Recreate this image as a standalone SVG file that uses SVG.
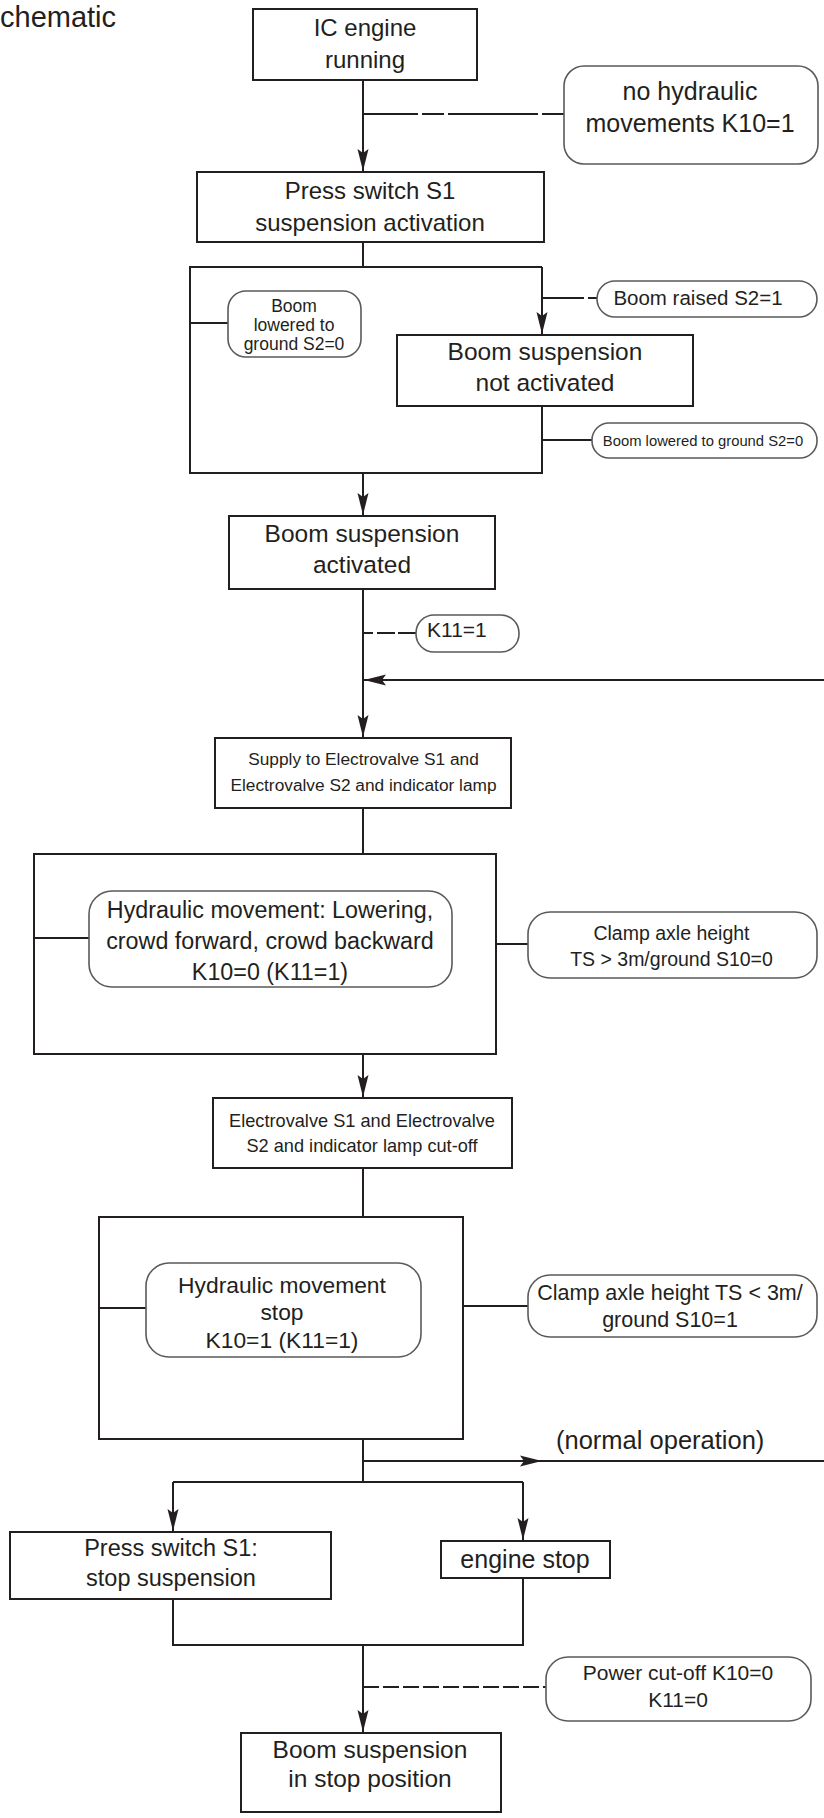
<svg xmlns="http://www.w3.org/2000/svg" width="824" height="1818" viewBox="0 0 824 1818">
<style>
.bg{fill:#ffffff}
.box{fill:#ffffff;stroke:#231f20;stroke-width:2}
.frame{fill:none;stroke:#231f20;stroke-width:2}
.pill{fill:#ffffff;stroke:#5a5a5a;stroke-width:1.6}
.ln{fill:none;stroke:#231f20;stroke-width:2}
.dash{fill:none;stroke:#231f20;stroke-width:2}
text{font-family:"Liberation Sans",Arial,sans-serif;fill:#231f20;text-anchor:middle}
.s{text-anchor:start}
</style>
<defs>
<marker id="arr" markerUnits="userSpaceOnUse" markerWidth="24" markerHeight="14" refX="22" refY="6" orient="auto">
<path d="M0,0.5 L22,6 L0,11.5 L4,6 z" fill="#231f20"/>
</marker>
</defs>
<rect class="bg" x="0" y="0" width="824" height="1818"/>

<g id="title"><text class="s" x="0" y="27" font-size="29">chematic</text></g>

<g id="connectors">
<path class="ln" d="M363,80 V171" marker-end="url(#arr)"/>
<path class="dash" d="M363,114 H418 M422,114 H444 M448,114 H538 M542,114 H564"/>
<path class="ln" d="M363,242 V267"/>
<path class="ln" d="M542,267 V334" marker-end="url(#arr)"/>
<path class="ln" d="M190,323 H228"/>
<path class="dash" d="M542,298 H584 M588,298 H597"/>
<path class="ln" d="M542,440 H592"/>
<path class="ln" d="M363,473 V515" marker-end="url(#arr)"/>
<path class="ln" d="M363,589 V737" marker-end="url(#arr)"/>
<path class="dash" d="M363,633 H373 M377,633 H395 M398,633 H416"/>
<path class="ln" d="M824,680 H364" marker-end="url(#arr)"/>
<path class="ln" d="M363,808 V854"/>
<path class="ln" d="M34,938 H89"/>
<path class="ln" d="M496,944 H528"/>
<path class="ln" d="M363,1054 V1097" marker-end="url(#arr)"/>
<path class="ln" d="M363,1168 V1217"/>
<path class="ln" d="M99,1308 H146"/>
<path class="ln" d="M463,1306 H528"/>
<path class="ln" d="M363,1439 V1482"/>
<path class="ln" d="M363,1461 L542,1461 L824,1461" marker-mid="url(#arr)"/>
<path class="ln" d="M173,1482 H523"/>
<path class="ln" d="M173,1482 V1531" marker-end="url(#arr)"/>
<path class="ln" d="M523,1482 V1540" marker-end="url(#arr)"/>
<path class="ln" d="M173,1599 V1645 H523 V1578"/>
<path class="ln" d="M363,1645 V1732" marker-end="url(#arr)"/>
<path class="dash" d="M363,1687 H546" stroke-dasharray="16,4"/>
<text class="s" x="556" y="1449" font-size="25.5">(normal operation)</text>
</g>

<g id="n_ic_engine">
<rect class="box" x="253" y="9" width="224" height="71"/>
<text x="365" y="36" font-size="24">IC engine</text>
<text x="365" y="68" font-size="24">running</text>
</g>

<g id="n_no_hydraulic">
<rect class="pill" x="564" y="66" width="254" height="98" rx="20"/>
<text x="690" y="100" font-size="25">no hydraulic</text>
<text x="690" y="132" font-size="25">movements K10=1</text>
</g>

<g id="n_press_s1">
<rect class="box" x="197" y="172" width="347" height="70"/>
<text x="370" y="199" font-size="24">Press switch S1</text>
<text x="370" y="231" font-size="24">suspension activation</text>
</g>

<g id="n_frame1">
<path class="frame" d="M542,267 H190 V473 H542 V406"/>
</g>

<g id="n_boom_lowered_left">
<rect class="pill" x="228" y="291" width="133" height="66" rx="18"/>
<text x="294" y="312" font-size="17.5">Boom</text>
<text x="294" y="331" font-size="17.5">lowered to</text>
<text x="294" y="349.5" font-size="17.5">ground S2=0</text>
</g>

<g id="n_boom_raised">
<rect class="pill" x="597" y="281" width="220" height="36" rx="18"/>
<text x="698" y="305" font-size="20.5">Boom raised S2=1</text>
</g>

<g id="n_not_activated">
<rect class="box" x="397" y="335" width="296" height="71"/>
<text x="545" y="360" font-size="24.5">Boom suspension</text>
<text x="545" y="391" font-size="24.5">not activated</text>
</g>

<g id="n_boom_lowered_right">
<rect class="pill" x="592" y="423" width="225" height="35" rx="17"/>
<text x="703" y="446" font-size="14.8">Boom lowered to ground S2=0</text>
</g>

<g id="n_activated">
<rect class="box" x="229" y="516" width="266" height="73"/>
<text x="362" y="542" font-size="24.5">Boom suspension</text>
<text x="362" y="573" font-size="24.5">activated</text>
</g>

<g id="n_k11">
<rect class="pill" x="416" y="615" width="103" height="37" rx="18"/>
<text class="s" x="427" y="637" font-size="21">K11=1</text>
</g>

<g id="n_supply">
<rect class="box" x="215" y="738" width="296" height="70"/>
<text x="363.5" y="765" font-size="17.3">Supply to Electrovalve S1 and</text>
<text x="363.5" y="791" font-size="17.3">Electrovalve S2 and indicator lamp</text>
</g>

<g id="n_frame2">
<rect class="frame" x="34" y="854" width="462" height="200"/>
</g>

<g id="n_hyd_move">
<rect class="pill" x="89" y="891" width="363" height="96" rx="23"/>
<text x="270" y="918" font-size="23.3">Hydraulic movement: Lowering,</text>
<text x="270" y="949" font-size="23.3">crowd forward, crowd backward</text>
<text x="270" y="980" font-size="23.3">K10=0 (K11=1)</text>
</g>

<g id="n_clamp1">
<rect class="pill" x="528" y="912" width="289" height="66" rx="22"/>
<text x="671.5" y="940" font-size="19.5">Clamp axle height</text>
<text x="671.5" y="966" font-size="19.5">TS &gt; 3m/ground S10=0</text>
</g>

<g id="n_cutoff">
<rect class="box" x="213" y="1098" width="299" height="70"/>
<text x="362" y="1127" font-size="18.2">Electrovalve S1 and Electrovalve</text>
<text x="362" y="1152" font-size="18.2">S2 and indicator lamp cut-off</text>
</g>

<g id="n_frame3">
<rect class="frame" x="99" y="1217" width="364" height="222"/>
</g>

<g id="n_hyd_stop">
<rect class="pill" x="146" y="1263" width="275" height="94" rx="23"/>
<text x="282" y="1293" font-size="22.8">Hydraulic movement</text>
<text x="282" y="1320" font-size="22.8">stop</text>
<text x="282" y="1348" font-size="22.8">K10=1 (K11=1)</text>
</g>

<g id="n_clamp2">
<rect class="pill" x="528" y="1275" width="289" height="62" rx="22"/>
<text x="670" y="1300" font-size="21.5">Clamp axle height TS &lt; 3m/</text>
<text x="670" y="1327" font-size="21.5">ground S10=1</text>
</g>

<g id="n_press_stop">
<rect class="box" x="10" y="1532" width="321" height="67"/>
<text x="171" y="1556" font-size="23.5">Press switch S1:</text>
<text x="171" y="1586" font-size="23.5">stop suspension</text>
</g>

<g id="n_engine_stop">
<rect class="box" x="441" y="1541" width="169" height="37"/>
<text x="525" y="1568" font-size="25">engine stop</text>
</g>

<g id="n_power_cut">
<rect class="pill" x="546" y="1657" width="265" height="64" rx="22"/>
<text x="678" y="1680" font-size="21">Power cut-off K10=0</text>
<text x="678" y="1707" font-size="21">K11=0</text>
</g>

<g id="n_stop_position">
<rect class="box" x="241" y="1733" width="260" height="79"/>
<text x="370" y="1758" font-size="24.5">Boom suspension</text>
<text x="370" y="1787" font-size="24.5">in stop position</text>
</g>
</svg>
